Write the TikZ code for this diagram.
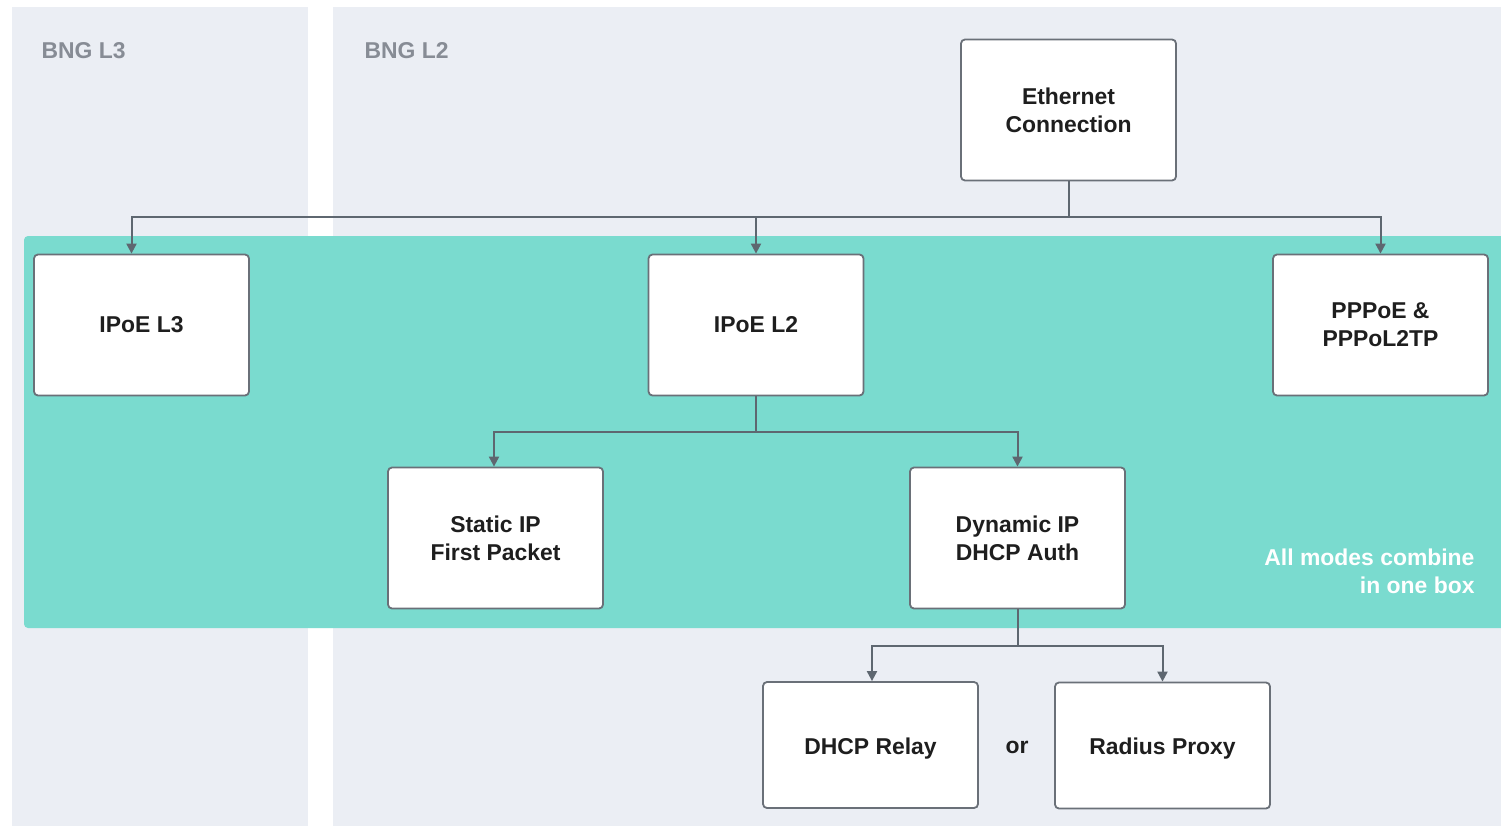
\documentclass[tikz,border=0pt]{standalone}
\usepackage{fontspec}
\setmainfont{Liberation Sans}
\usetikzlibrary{arrows.meta}
\definecolor{panel}{HTML}{EBEEF4}
\definecolor{teal}{HTML}{7ADBCF}
\definecolor{edge}{HTML}{6A7078}
\definecolor{wire}{HTML}{5E6770}
\definecolor{lbl}{HTML}{878C95}
\definecolor{ink}{HTML}{1E1E1E}
\begin{document}
\begin{tikzpicture}[x=1bp,y=-1bp,
  box/.style={draw=edge,line width=1.8bp,fill=white,rounded corners=4bp,
    minimum width=215bp,minimum height=141bp,inner sep=0pt,align=center,
    font=\fontsize{23}{28}\selectfont\bfseries,text=ink},
  smallbox/.style={box,minimum height=126bp},
  conn/.style={draw=wire,line width=2bp},
  arr/.style={conn,-{Triangle[length=10bp,width=10bp]}},
  panellabel/.style={font=\fontsize{23}{28}\selectfont\bfseries,text=lbl,anchor=base west}
]
\useasboundingbox (0,0) rectangle (1501,826);
\fill[white] (0,0) rectangle (1501,826);
% panels
\fill[panel] (12,7) rectangle (308,826);
\fill[panel] (333,7) rectangle (1501,826);
\node[panellabel] (l3) at (38,58) {BNG L3};
\node[panellabel] (l2) at (361,58) {BNG L2};
% teal band
\fill[teal,rounded corners=4bp] (24,236) rectangle (1530,628);
\node[font=\fontsize{23}{28}\selectfont\bfseries,text=white,align=right,anchor=east] (note) at (1478,571) {All modes combine\\in one box};
% boxes
\node[box] (eth) at (1068.5,110) {Ethernet\\Connection};
\node[box] (ipoe3) at (141.5,325) {IPoE L3};
\node[box] (ipoe2) at (756,325) {IPoE L2};
\node[box] (ppp) at (1380.5,325) {PPPoE \&\\PPPoL2TP};
\node[box] (stat) at (495.5,538) {Static IP\\First Packet};
\node[box] (dyn) at (1017.5,538) {Dynamic IP\\DHCP Auth};
\node[smallbox] (relay) at (870.5,745) {\raisebox{-4bp}[\height][\depth]{DHCP Relay}};
\node[smallbox] (radius) at (1162.5,745.5) {\raisebox{-3bp}[\height][\depth]{Radius Proxy}};
\node[font=\fontsize{23}{28}\selectfont\bfseries,text=ink] (or) at (1017,747) {or};
% connectors
\coordinate (b1) at (1068.5,217);
\draw[conn] (eth.south) -- (b1);
\draw[arr] (b1) -| ([xshift=-10bp]ipoe3.north);
\draw[arr] (b1) -| (ipoe2.north);
\draw[arr] (b1) -| (ppp.north);
\coordinate (b2) at (756,432);
\draw[conn] (ipoe2.south) -- (b2);
\draw[arr] (b2) -| ([xshift=-1.5bp]stat.north);
\draw[arr] (b2) -| (dyn.north);
\coordinate (b3) at (1017.5,646);
\draw[conn] (dyn.south) -- (b3);
\draw[arr] (b3) -| ([xshift=1.5bp]relay.north);
\draw[arr] (b3) -| (radius.north);
\end{tikzpicture}
\end{document}
